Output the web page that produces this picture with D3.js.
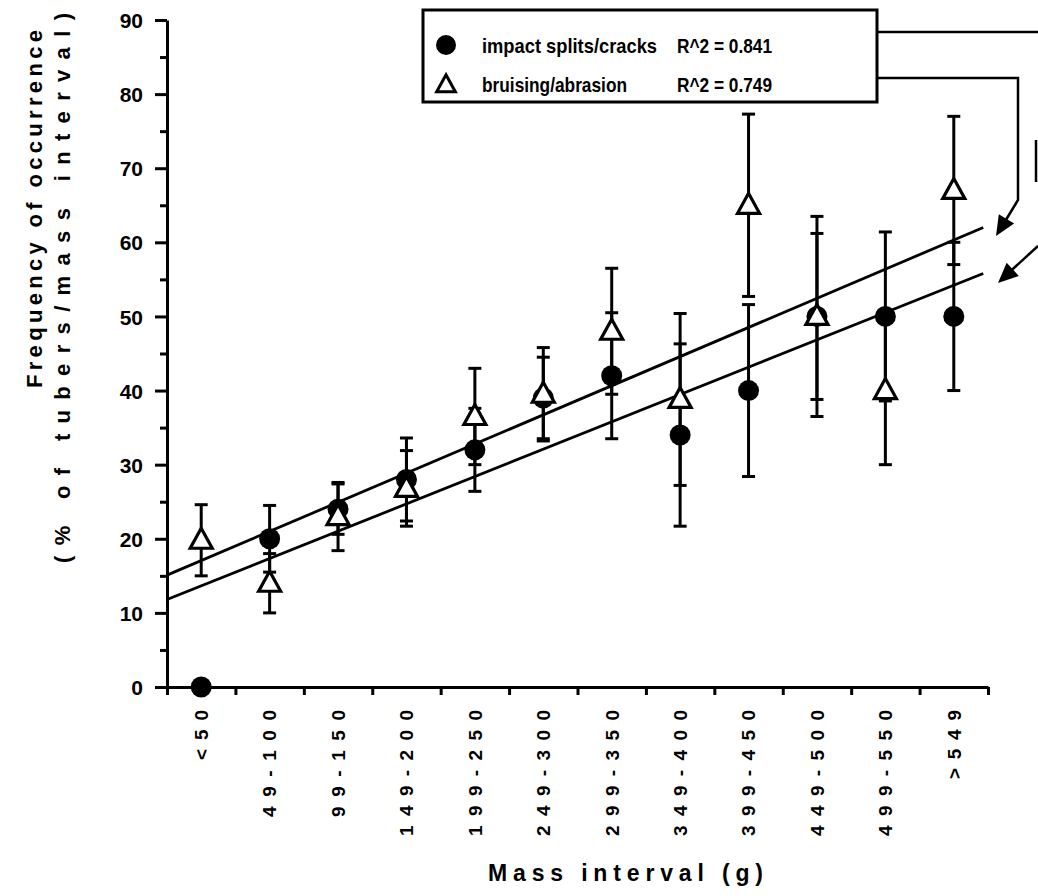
<!DOCTYPE html>
<html>
<head>
<meta charset="utf-8">
<script src="https://cdn.jsdelivr.net/npm/d3@7"></script>
<style>
  body { margin: 0; background: #fff; }
  svg { display: block; }
  text { font-family: "Liberation Sans", Arial, sans-serif; font-weight: bold; fill: #000; }
  .narrow { font-family: "Liberation Sans Narrow", "Arial Narrow", "Liberation Sans", sans-serif; }
</style>
</head>
<body>
<script>
// mass interval categories
const categories = ["<50", "49-100", "99-150", "149-200", "199-250", "249-300",
    "299-350", "349-400", "399-450", "449-500", "499-550", ">549"];
// impact splits/cracks (filled circles)
const impactValues = [0, 20, 24, 28, 32, 39, 42, 34, 40, 50, 50, 50];
const impactErrors = [0, 4.5, 3.4, 5.6, 5.6, 5.5, 8.5, 12.3, 11.6, 11.2, 11.4, 10];
// bruising/abrasion (open triangles)
const bruiseValues = [19.8, 14, 23, 26.8, 36.5, 39.5, 48, 38.8, 65, 50, 40, 67];
const bruiseErrors = [4.8, 4, 4.6, 5.1, 6.5, 6.3, 8.5, 11.6, 12.3, 13.5, 10, 10];
// fitted lines, value at left and right end
const fitSpan = [-0.5, 11.43];
const impactFit = [11.8, 55.8];
const bruiseFit = [15.1, 62.0];
const yTicks = [0, 10, 20, 30, 40, 50, 60, 70, 80, 90];
const yMinorTicks = [5, 15, 25, 35, 45, 55, 65, 75, 85];
const legendNames = ["impact splits/cracks", "bruising/abrasion"];
const legendR2 = ["R^2 = 0.841", "R^2 = 0.749"];

let width = 1038,
    height = 896;

let svg = d3.select("body").append("svg")
    .attr("width", width)
    .attr("height", height);
svg.append("rect").attr("width", width).attr("height", height).attr("fill", "#fff");

let x = d3.scaleBand().domain(categories).range([167, 988]);
let xi = d3.scaleLinear().domain([-0.5, categories.length - 0.5]).range([167, 988]);
let y = d3.scaleLinear().domain([0, 90]).range([687, 20]);

// y axis
let yAxisG = svg.append("g").attr("transform", "translate(167,0)")
    .call(d3.axisLeft(y).tickValues(yTicks).tickSize(12).tickSizeOuter(0).tickPadding(12));
svg.append("g").attr("transform", "translate(167,0)")
    .call(d3.axisLeft(y).tickValues(yMinorTicks).tickSize(7).tickSizeOuter(0).tickFormat(""))
    .select(".domain").remove();
yAxisG.selectAll("text").style("font-size", "21px").attr("dy", "0.36em");

// x axis: ticks on the band edges, labels in the bands
let edges = d3.range(categories.length + 1).map(i => i - 0.5);
svg.append("g").attr("transform", "translate(0,687)")
    .call(d3.axisBottom(xi).tickValues(edges).tickSize(8).tickSizeOuter(0).tickFormat(""));
let xLab = svg.append("g").attr("transform", "translate(0,687)")
    .call(d3.axisBottom(x).tickSize(0));
xLab.select(".domain").remove();
xLab.selectAll("text")
    .style("font-size", "19px")
    .attr("text-anchor", "end")
    .attr("transform", "rotate(-90)")
    .attr("x", -23)
    .attr("y", 0)
    .attr("dy", "0.36em")
    .attr("textLength", d => (d.length - 1) * 19 + 12)
    .attr("lengthAdjust", "spacing");

svg.selectAll(".domain, .tick line").attr("stroke", "#000").attr("stroke-width", 3);

// fitted lines
let fitLine = d3.line().x(d => xi(d[0])).y(d => y(d[1]));
[impactFit, bruiseFit].forEach(f => {
    svg.append("path")
        .attr("d", fitLine([[fitSpan[0], f[0]], [fitSpan[1], f[1]]]))
        .attr("fill", "none")
        .attr("stroke", "#000")
        .attr("stroke-width", 2.8);
});

function errorBars(values, errors) {
    let g = svg.append("g").attr("stroke", "#000").attr("stroke-width", 3);
    values.forEach((v, i) => {
        let e = errors[i];
        if (!e) return;
        let cx = x(categories[i]) + x.bandwidth() / 2;
        g.append("line").attr("x1", cx).attr("x2", cx).attr("y1", y(v - e)).attr("y2", y(v + e));
        [v - e, v + e].forEach(c => {
            g.append("line").attr("x1", cx - 6.5).attr("x2", cx + 6.5).attr("y1", y(c)).attr("y2", y(c));
        });
    });
}

errorBars(bruiseValues, bruiseErrors);
errorBars(impactValues, impactErrors);

function trianglePath(cx, cy, s) {
    return "M" + cx + "," + (cy - 12 * s) + "L" + (cx + 11 * s) + "," + (cy + 8 * s)
        + "L" + (cx - 11 * s) + "," + (cy + 8 * s) + "Z";
}

svg.append("g").selectAll("circle")
    .data(impactValues)
    .join("circle")
    .attr("cx", (d, i) => x(categories[i]) + x.bandwidth() / 2)
    .attr("cy", d => y(d))
    .attr("r", 10.5)
    .attr("fill", "#000");

svg.append("g").selectAll("path")
    .data(bruiseValues)
    .join("path")
    .attr("d", (d, i) => trianglePath(x(categories[i]) + x.bandwidth() / 2, y(d), 1))
    .attr("fill", "#fff")
    .attr("stroke", "#000")
    .attr("stroke-width", 3.2)
    .attr("stroke-linejoin", "miter");

// axis titles
let yTitle = svg.append("g");
yTitle.append("text")
    .attr("transform", "translate(42,388) rotate(-90)")
    .style("font-size", "22px")
    .attr("textLength", 358).attr("lengthAdjust", "spacing")
    .text("Frequency of occurrence");
yTitle.append("text")
    .attr("transform", "translate(70,563) rotate(-90)")
    .style("font-size", "22px")
    .attr("textLength", 550).attr("lengthAdjust", "spacing")
    .text("(% of tubers/mass interval)");

svg.append("text")
    .attr("x", 488).attr("y", 881)
    .style("font-size", "23px")
    .attr("textLength", 275).attr("lengthAdjust", "spacing")
    .text("Mass interval (g)");

// legend
let legend = svg.append("g");
legend.append("rect")
    .attr("x", 423).attr("y", 10)
    .attr("width", 454).attr("height", 92)
    .attr("fill", "#fff").attr("stroke", "#000").attr("stroke-width", 3);
legend.append("circle").attr("cx", 446).attr("cy", 45).attr("r", 10).attr("fill", "#000");
legend.append("path").attr("d", trianglePath(446, 85, 0.85))
    .attr("fill", "#fff").attr("stroke", "#000").attr("stroke-width", 3);
legend.selectAll(".lname")
    .data(legendNames)
    .join("text")
    .attr("class", "lname narrow")
    .attr("x", 482).attr("y", (d, i) => 53 + i * 39)
    .style("font-size", "21px")
    .attr("textLength", (d, i) => i === 0 ? 175 : 145)
    .attr("lengthAdjust", "spacingAndGlyphs")
    .text(d => d);
legend.selectAll(".lr2")
    .data(legendR2)
    .join("text")
    .attr("class", "lr2 narrow")
    .attr("x", 677).attr("y", (d, i) => 53 + i * 39)
    .style("font-size", "21px")
    .attr("textLength", 95)
    .attr("lengthAdjust", "spacingAndGlyphs")
    .text(d => d);

// connectors from the legend to the fitted lines
let conn = svg.append("g").attr("fill", "none").attr("stroke", "#000").attr("stroke-width", 2.5);
conn.append("path").attr("d", "M877,32H1038");
conn.append("path").attr("d", "M1036,140V182");
conn.append("path").attr("d", "M877,78H1018V200L1001,228");
conn.append("path").attr("d", "M1038,246L1003,278");

function arrowHead(tip, from) {
    let a = Math.atan2(from[1] - tip[1], from[0] - tip[0]);
    let l = 22, w = 0.42;
    let p1 = [tip[0] + l * Math.cos(a + w), tip[1] + l * Math.sin(a + w)];
    let p2 = [tip[0] + l * Math.cos(a - w), tip[1] + l * Math.sin(a - w)];
    svg.append("path")
        .attr("d", "M" + tip + "L" + p1 + "L" + p2 + "Z")
        .attr("fill", "#000");
}
arrowHead([996, 236], [1018, 200]);
arrowHead([998, 283], [1038, 246]);
</script>
</body>
</html>
